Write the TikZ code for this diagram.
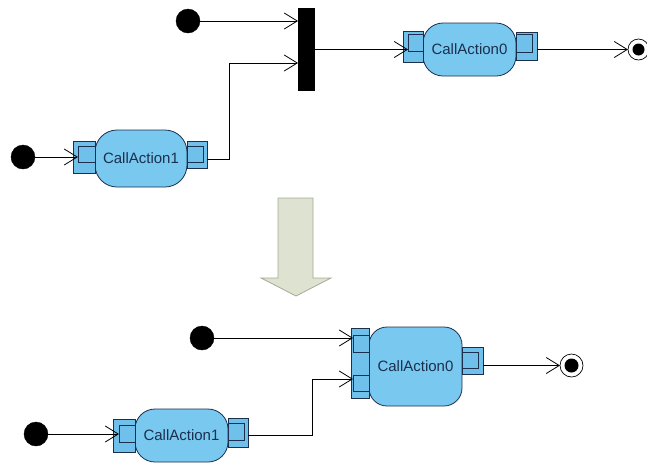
\documentclass[tikz,border=0pt]{standalone}
\usepackage{fontspec}
\setmainfont{Liberation Sans}
\usetikzlibrary{arrows.meta}
\definecolor{navy}{RGB}{28,48,78}
\definecolor{abody}{RGB}{120,200,240}
\definecolor{aport}{RGB}{112,192,236}
\definecolor{arrfill}{RGB}{222,226,208}
\definecolor{arrdraw}{RGB}{165,170,150}
\tikzset{
  actbox/.style={draw=navy, fill=abody, line width=0.8pt, rounded corners=20pt, inner sep=0pt, outer sep=0pt,
    font=\fontsize{15}{17}\selectfont, text=navy},
  pinbox/.style={draw=navy, fill=aport, line width=0.8pt, inner sep=0pt, outer sep=0pt},
  initdot/.style={circle, fill=black, draw=black, inner sep=0pt, outer sep=0pt, minimum size=24pt},
  finout/.style={circle, fill=white, draw=black, line width=0.7pt, inner sep=0pt, outer sep=0pt},
  findot/.style={circle, fill=black, inner sep=0pt, outer sep=0pt, minimum size=12pt},
  forkbar/.style={fill=black, inner sep=0pt, outer sep=0pt, minimum width=17pt, minimum height=83pt},
  flow/.style={draw=black, line width=0.8pt, -{Straight Barb[length=13pt,width=16pt,line width=0.8pt]}},
}
\begin{document}
\begin{tikzpicture}[x=1pt,y=-1pt]
\useasboundingbox (0,0) rectangle (647,464);

% ---------------- top diagram ----------------
\node[initdot] (i1) at (188,21) {};
\node[initdot] (i2) at (23,157) {};
\node[forkbar] (bar) at (306.5,49.5) {};

% CallAction1 (top)
\node[actbox, minimum width=92pt, minimum height=57pt, rounded corners=22pt] (ca1) at (141,158.5) {CallAction1};
\node[pinbox, minimum width=22pt, minimum height=32pt] (ca1lo) at (84,157) {};
\node[pinbox, minimum width=17pt, minimum height=16pt] (ca1li) at (86.5,154) {};
\node[pinbox, minimum width=20pt, minimum height=27pt] (ca1ro) at (197,154.5) {};
\node[pinbox, minimum width=16pt, minimum height=16pt] (ca1ri) at (195,154) {};

% CallAction0 (top)
\node[actbox, minimum width=93pt, minimum height=53pt] (ca0) at (469.5,49.5) {CallAction0};
\node[pinbox, minimum width=20pt, minimum height=31pt] (ca0lo) at (413,46.5) {};
\node[pinbox, minimum width=15pt, minimum height=17pt] (ca0li) at (415.5,43) {};
\node[pinbox, minimum width=21pt, minimum height=28pt] (ca0ro) at (526.5,46) {};
\node[pinbox, minimum width=16pt, minimum height=18pt] (ca0ri) at (524,43) {};

\node[finout, minimum size=21pt] (f1) at (638.5,49.5) {};
\node[findot] (f1d) at (f1) {};

\coordinate (c1) at (229,159);
\coordinate (j2) at (298,63);

\draw[flow] (i1) -- (i1 -| bar.west);
\draw[flow] (i2) -- (i2 -| ca1li.west);
\draw[flow] (ca1ro.east |- c1) -- (c1) |- (j2);
\draw[flow] (bar.east) -- (bar.east -| ca0li.west);
\draw[flow] (ca0ro.east |- f1) -- (f1.west);

% ---------------- transformation arrow ----------------
\draw[fill=arrfill, draw=arrdraw, line width=0.8pt, line join=miter]
  (278,198) -- (313,198) -- (313,278) -- (331,278) -- (296,296) -- (261,278) -- (278,278) -- cycle;

% ---------------- bottom diagram ----------------
\node[initdot] (i3) at (202,338) {};
\node[initdot] (i4) at (36,434) {};

% CallAction0 (bottom, merged)
\node[actbox, minimum width=93pt, minimum height=79pt, rounded corners=18pt] (cb0) at (415.5,366.5) {CallAction0};
\node[pinbox, minimum width=18pt, minimum height=70pt] (cb0lo) at (360,363) {};
\node[pinbox, minimum width=16pt, minimum height=17pt] (cb0li1) at (361,343.5) {};
\node[pinbox, minimum width=16pt, minimum height=16pt] (cb0li2) at (361,383) {};
\node[pinbox, minimum width=21pt, minimum height=27pt] (cb0ro) at (472.5,360.5) {};
\node[pinbox, minimum width=16pt, minimum height=16pt] (cb0ri) at (470,360) {};

% CallAction1 (bottom)
\node[actbox, minimum width=93pt, minimum height=53pt] (cb1) at (181.5,435.5) {CallAction1};
\node[pinbox, minimum width=22pt, minimum height=33pt] (cb1lo) at (124,435.5) {};
\node[pinbox, minimum width=16pt, minimum height=17pt] (cb1li) at (127,433.5) {};
\node[pinbox, minimum width=20pt, minimum height=29pt] (cb1ro) at (238,432.5) {};
\node[pinbox, minimum width=16pt, minimum height=17pt] (cb1ri) at (236,431.5) {};

\node[finout, minimum size=23pt] (f2) at (571.5,365.5) {};
\node[findot, minimum size=14pt] (f2d) at (f2) {};

\coordinate (c2) at (312,435);
\coordinate (j3) at (353,379);

\draw[flow] (i3) -- (i3 -| cb0li1.west);
\draw[flow] (i4) -- (i4 -| cb1li.west);
\draw[flow] (cb1ro.east |- c2) -- (c2) |- (j3);
\draw[flow] (cb0ro.east |- f2) -- (f2.west);

\end{tikzpicture}
\end{document}
